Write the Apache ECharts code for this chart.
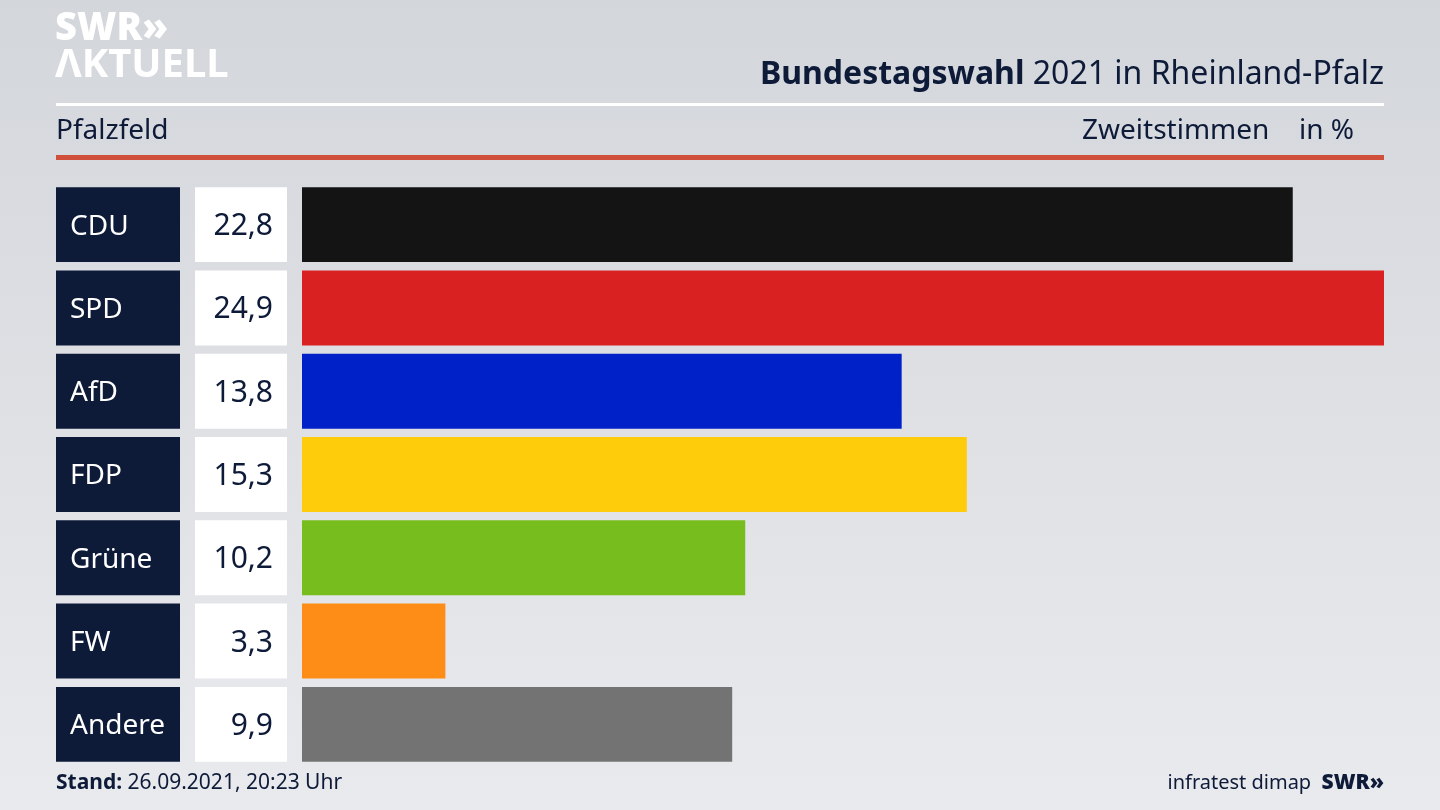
<!DOCTYPE html>
<html>
<head>
<meta charset="utf-8">
<script src="https://cdn.jsdelivr.net/npm/echarts@6/dist/echarts.min.js"></script>
<style>
  html, body { margin: 0; padding: 0; }
  #main-chart { width: 1440px; height: 810px; }
</style>
</head>
<body>
<div id="main-chart"></div>
<script>
// Zweitstimmen in %, Pfalzfeld
const parties = ['CDU', 'SPD', 'AfD', 'FDP', 'Grüne', 'FW', 'Andere'];
const values = [22.8, 24.9, 13.8, 15.3, 10.2, 3.3, 9.9];
const colors = ['#141414', '#d92121', '#0121c8', '#fecc0a', '#78bd1e', '#fe8d18', '#737373'];

const FONT = '"Noto Sans", sans-serif';
const NAVY = '#0d1a38';

const chart = echarts.init(document.getElementById('main-chart'));

chart.setOption({
    animation: false,
    backgroundColor: {
        type: 'linear', x: 0, y: 0, x2: 0, y2: 1,
        colorStops: [{ offset: 0, color: '#d3d6db' }, { offset: 1, color: '#e9eaed' }]
    },
    grid: { top: 183, bottom: 44, left: 302, right: 56 },
    xAxis: { type: 'value', min: 0, max: 24.9, show: false },
    yAxis: { type: 'category', data: parties, inverse: true, show: false },
    graphic: [
        { type: 'text', left: 55, top: 10, style: { text: 'SWR»', font: '900 38px ' + FONT, fill: '#ffffff' } },
        { type: 'text', left: 55, top: 46, style: { text: 'ΛKTUELL', font: '700 40px ' + FONT, fill: '#ffffff' } },
        { type: 'text', right: 56, top: 59, style: { text: '{b|Bundestagswahl} 2021 in Rheinland-Pfalz', font: '32px ' + FONT, fill: NAVY,
            rich: { b: { font: 'bold 32px ' + FONT, fill: NAVY } } } },
        { type: 'rect', shape: { x: 56, y: 103, width: 1328, height: 3 }, style: { fill: '#ffffff' } },
        { type: 'text', left: 56, top: 117, style: { text: 'Pfalzfeld', font: '28px ' + FONT, fill: NAVY } },
        { type: 'text', left: 1082, top: 117, style: { text: 'Zweitstimmen', font: '28px ' + FONT, fill: NAVY } },
        { type: 'text', left: 1299, top: 117, style: { text: 'in %', font: '28px ' + FONT, fill: NAVY } },
        { type: 'rect', shape: { x: 56, y: 155, width: 1328, height: 5 }, style: { fill: '#d0503c' } },
        { type: 'text', left: 56, top: 773, style: { text: '{b|Stand:} 26.09.2021, 20:23 Uhr', font: '21px ' + FONT, fill: NAVY,
            rich: { b: { font: 'bold 21px ' + FONT, fill: NAVY } } } },
        { type: 'text', right: 56, top: 773, style: { text: 'infratest dimap  {b|SWR»}', font: '20px ' + FONT, fill: NAVY,
            rich: { b: { font: '900 21px ' + FONT, fill: NAVY } } } }
    ],
    series: [
        {
            type: 'bar',
            barCategoryGap: '10%',
            data: values.map((v, i) => ({ value: v, itemStyle: { color: colors[i] } }))
        },
        {
            // Partei- und Wertkästen links
            type: 'custom',
            data: values.map((v, i) => [0, i]),
            renderItem: (params, api) => {
                const i = api.value(1);
                const c = api.coord([0, i]);
                const h = api.size([0, 1])[1] * 0.9;
                const y = c[1] - h / 2;
                return {
                    type: 'group',
                    children: [
                        { type: 'rect', shape: { x: 56, y: y, width: 124, height: h }, style: { fill: NAVY } },
                        { type: 'text', style: { x: 70, y: c[1] + 2, text: parties[i], font: '28px ' + FONT, fill: '#ffffff', verticalAlign: 'middle' } },
                        { type: 'rect', shape: { x: 195, y: y, width: 92, height: h }, style: { fill: '#ffffff' } },
                        { type: 'text', style: { x: 273, y: c[1] + 2, text: values[i].toFixed(1).replace('.', ','), font: '30px ' + FONT, fill: NAVY, align: 'right', verticalAlign: 'middle' } }
                    ]
                };
            }
        }
    ]
});
</script>
</body>
</html>
